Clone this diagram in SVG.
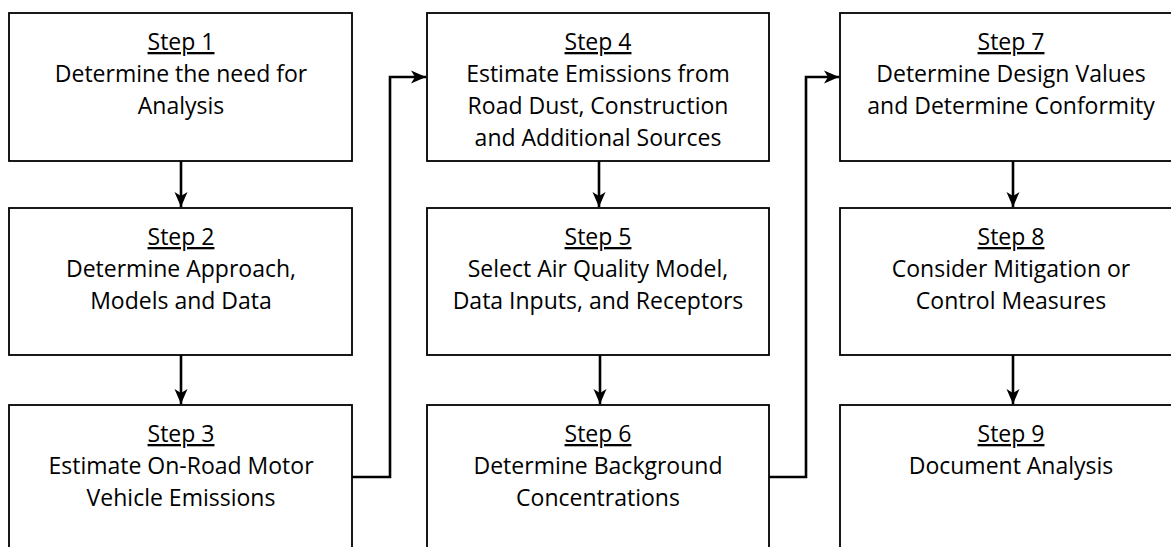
<svg xmlns="http://www.w3.org/2000/svg" width="1171" height="547" viewBox="0 0 1171 547">
<style>
.box{fill:#fff;stroke:#000;stroke-width:1.8}
.t{font-family:"Open Sans","Liberation Sans",sans-serif;font-size:23px;fill:#000;text-anchor:middle}
.u{text-decoration:underline}
.c{fill:none;stroke:#000;stroke-width:2.6}
</style>
<defs>
<marker id="ah" markerUnits="userSpaceOnUse" markerWidth="16" markerHeight="16" viewBox="0 0 16 16" refX="15" refY="8" orient="auto">
<path d="M0,1.5 L15,8 L0,14.5 L4,8 z" fill="#000"/>
</marker>
</defs>
<rect width="1171" height="547" fill="#fff"/>
<g id="connectors">
<line class="c" x1="181" y1="161" x2="181" y2="207" marker-end="url(#ah)"/>
<line class="c" x1="181" y1="355" x2="181" y2="404" marker-end="url(#ah)"/>
<line class="c" x1="599" y1="161" x2="599" y2="207" marker-end="url(#ah)"/>
<line class="c" x1="600" y1="355" x2="600" y2="404" marker-end="url(#ah)"/>
<line class="c" x1="1013" y1="161" x2="1013" y2="207" marker-end="url(#ah)"/>
<line class="c" x1="1013" y1="355" x2="1013" y2="404" marker-end="url(#ah)"/>
<polyline class="c" points="352,477 390,477 390,77 426,77" marker-end="url(#ah)"/>
<polyline class="c" points="769,477 806,477 806,77 839,77" marker-end="url(#ah)"/>
</g>
<g id="step1"><rect class="box" x="9" y="13" width="343" height="148"/>
<text class="t" x="181" y="50"><tspan class="u">Step 1</tspan><tspan x="181" dy="32">Determine the need for</tspan><tspan x="181" dy="32">Analysis</tspan></text></g>
<g id="step2"><rect class="box" x="9" y="208" width="343" height="147"/>
<text class="t" x="181" y="245"><tspan class="u">Step 2</tspan><tspan x="181" dy="32">Determine Approach,</tspan><tspan x="181" dy="32">Models and Data</tspan></text></g>
<g id="step3"><rect class="box" x="9" y="405" width="343" height="150"/>
<text class="t" x="181" y="442"><tspan class="u">Step 3</tspan><tspan x="181" dy="32">Estimate On-Road Motor</tspan><tspan x="181" dy="32">Vehicle Emissions</tspan></text></g>
<g id="step4"><rect class="box" x="427" y="13" width="342" height="148"/>
<text class="t" x="598" y="50"><tspan class="u">Step 4</tspan><tspan x="598" dy="32">Estimate Emissions from</tspan><tspan x="598" dy="32">Road Dust, Construction</tspan><tspan x="598" dy="32">and Additional Sources</tspan></text></g>
<g id="step5"><rect class="box" x="427" y="208" width="342" height="147"/>
<text class="t" x="598" y="245"><tspan class="u">Step 5</tspan><tspan x="598" dy="32">Select Air Quality Model,</tspan><tspan x="598" dy="32">Data Inputs, and Receptors</tspan></text></g>
<g id="step6"><rect class="box" x="427" y="405" width="342" height="150"/>
<text class="t" x="598" y="442"><tspan class="u">Step 6</tspan><tspan x="598" dy="32">Determine Background</tspan><tspan x="598" dy="32">Concentrations</tspan></text></g>
<g id="step7"><rect class="box" x="840" y="13" width="346" height="148"/>
<text class="t" x="1011" y="50"><tspan class="u">Step 7</tspan><tspan x="1011" dy="32">Determine Design Values</tspan><tspan x="1011" dy="32">and Determine Conformity</tspan></text></g>
<g id="step8"><rect class="box" x="840" y="208" width="346" height="147"/>
<text class="t" x="1011" y="245"><tspan class="u">Step 8</tspan><tspan x="1011" dy="32">Consider Mitigation or</tspan><tspan x="1011" dy="32">Control Measures</tspan></text></g>
<g id="step9"><rect class="box" x="840" y="405" width="346" height="150"/>
<text class="t" x="1011" y="442"><tspan class="u">Step 9</tspan><tspan x="1011" dy="32">Document Analysis</tspan></text></g>
</svg>
